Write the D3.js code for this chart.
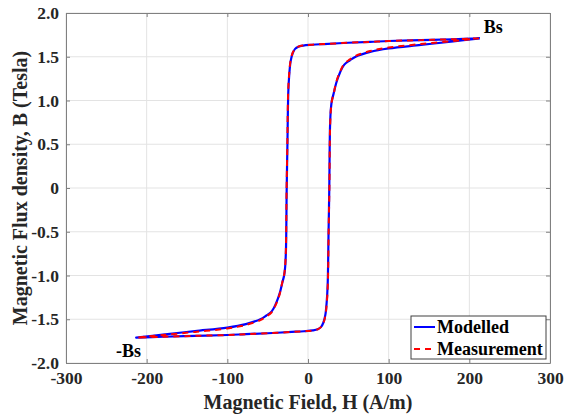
<!DOCTYPE html>
<html>
<head>
<meta charset="utf-8">
<script src="https://cdn.jsdelivr.net/npm/d3@7"></script>
<style>
  body { margin: 0; background: white; }
  svg text { font-family: "Liberation Serif", "DejaVu Serif", serif !important; font-weight: bold; }
</style>
</head>
<body>
<div id="chart"></div>
<script>
// tick values
const xTicks = [-300, -200, -100, 0, 100, 200, 300];
const yTicks = [-2, -1.5, -1, -0.5, 0, 0.5, 1, 1.5, 2];

// modelled loop: descending branch (H, B) then ascending branch
const modelH = [213, 180, 140, 100, 77, 50, 20, 5, -6, -12, -16, -19, -21.5, -23.2, -24.4, -25.5, -26.4, -27.3, -28.3, -29.6, -31.8, -35, -39.7, -45, -52, -59, -77, -100, -140, -180, -213,
                -213, -180, -140, -100, -77, -50, -20, -5, 6, 12, 16, 19, 21.5, 23.2, 24.4, 25.5, 26.4, 27.3, 28.3, 29.6, 31.8, 35, 39.7, 45, 52, 59, 77, 100, 140, 180, 213];
const modelB = [1.71, 1.70, 1.69, 1.68, 1.67, 1.66, 1.645, 1.637, 1.628, 1.615, 1.59, 1.54, 1.45, 1.30, 1.10, 0.5, 0.0, -0.70, -0.90, -1.00, -1.08, -1.20, -1.32, -1.41, -1.46, -1.50, -1.555, -1.595, -1.635, -1.675, -1.71,
                -1.71, -1.70, -1.69, -1.68, -1.67, -1.66, -1.645, -1.637, -1.628, -1.615, -1.59, -1.54, -1.45, -1.30, -1.10, -0.5, 0.0, 0.70, 0.90, 1.00, 1.08, 1.20, 1.32, 1.41, 1.46, 1.50, 1.555, 1.595, 1.635, 1.675, 1.71];

// measured loop
const measH = [212, 180, 140, 100, 77, 50, 20, 5, -6, -12, -16, -19.2, -21.7, -23.4, -24.6, -25.6, -26.5, -27.4, -28.4, -29.7, -31.9, -35, -39.7, -45, -52, -59, -77, -100, -140, -180, -212,
               -212, -180, -140, -100, -77, -50, -20, -5, 6, 12, 16, 19.2, 21.7, 23.4, 24.6, 25.6, 26.5, 27.4, 28.4, 29.7, 31.9, 35, 39.7, 45, 52, 59, 77, 100, 140, 180, 212];
const measB = [1.71, 1.70, 1.69, 1.68, 1.67, 1.66, 1.645, 1.637, 1.628, 1.615, 1.59, 1.54, 1.45, 1.30, 1.10, 0.5, 0.0, -0.70, -0.90, -1.00, -1.08, -1.21, -1.33, -1.42, -1.47, -1.51, -1.565, -1.605, -1.645, -1.68, -1.71,
               -1.71, -1.70, -1.69, -1.68, -1.67, -1.66, -1.645, -1.637, -1.628, -1.615, -1.59, -1.54, -1.45, -1.30, -1.10, -0.5, 0.0, 0.70, 0.90, 1.00, 1.08, 1.21, 1.33, 1.42, 1.47, 1.51, 1.565, 1.605, 1.645, 1.68, 1.71];

const legendNames = ["Modelled", "Measurement"];

const svgWidth = 566;
const svgHeight = 415;
const margin = {top: 13, right: 16, bottom: 52, left: 66};
const width = svgWidth - margin.left - margin.right;
const height = svgHeight - margin.top - margin.bottom;

let svg = d3.select("#chart")
  .append("svg")
  .attr("width", svgWidth)
  .attr("height", svgHeight)
  .append("g")
  .attr("transform", "translate(" + margin.left + "," + margin.top + ")");

var xScale = d3.scaleLinear().domain([-300, 300]).range([0, width]);
var yScale = d3.scaleLinear().domain([-2, 2]).range([height, 0]);

// grid
svg.append("g").selectAll("line").data(xTicks).join("line")
  .attr("x1", d => xScale(d)).attr("x2", d => xScale(d))
  .attr("y1", 0).attr("y2", height)
  .attr("stroke", "#e3e3e3").attr("stroke-width", 1);
svg.append("g").selectAll("line").data(yTicks).join("line")
  .attr("x1", 0).attr("x2", width)
  .attr("y1", d => yScale(d)).attr("y2", d => yScale(d))
  .attr("stroke", "#e3e3e3").attr("stroke-width", 1);

// axes, ticks pointing inward
function styleAxis(g) {
  g.attr("font-family", "Liberation Serif").attr("font-weight", "bold");
  g.select(".domain").attr("stroke", "#808080");
  g.selectAll(".tick line").attr("stroke", "#808080");
  g.selectAll("text").attr("fill", "#262626").style("font-size", "17.5px");
}
const fmtX = d => String(d);
const fmtY = d => d === 0 ? "0" : d.toFixed(1);

svg.append("g").attr("transform", "translate(0," + height + ")")
  .call(d3.axisBottom(xScale).tickValues(xTicks).tickSizeInner(-4).tickSizeOuter(0).tickPadding(9).tickFormat(fmtX))
  .call(styleAxis);
svg.append("g")
  .call(d3.axisTop(xScale).tickValues(xTicks).tickSizeInner(-4).tickSizeOuter(0).tickFormat(""))
  .call(styleAxis);
svg.append("g")
  .call(d3.axisLeft(yScale).tickValues(yTicks).tickSizeInner(-4).tickSizeOuter(0).tickPadding(7).tickFormat(fmtY))
  .call(styleAxis);
svg.append("g").attr("transform", "translate(" + width + ",0)")
  .call(d3.axisRight(yScale).tickValues(yTicks).tickSizeInner(-4).tickSizeOuter(0).tickFormat(""))
  .call(styleAxis);

// curves
var line = d3.line().x(d => xScale(d[0])).y(d => yScale(d[1])).curve(d3.curveCatmullRom.alpha(0.5));
svg.append("path")
  .datum(d3.zip(modelH, modelB))
  .attr("fill", "none").attr("stroke", "#0000ff").attr("stroke-width", 2.2)
  .attr("stroke-linejoin", "round")
  .attr("d", line);
svg.append("path")
  .datum(d3.zip(measH, measB))
  .attr("fill", "none").attr("stroke", "#ff0000").attr("stroke-width", 2)
  .attr("stroke-dasharray", "6,5")
  .attr("d", line);

// annotations
svg.append("text").attr("x", xScale(218)).attr("y", yScale(1.77))
  .style("font-size", "18px").attr("fill", "black").text("Bs");
svg.append("text").attr("x", xScale(-238)).attr("y", yScale(-1.93))
  .style("font-size", "18px").attr("fill", "black").text("-Bs");

// axis titles
svg.append("text")
  .attr("text-anchor", "middle")
  .attr("x", width / 2).attr("y", height + 46)
  .style("font-size", "20px").attr("fill", "#262626")
  .text("Magnetic Field, H (A/m)");
svg.append("text")
  .attr("text-anchor", "middle")
  .attr("transform", "translate(-39," + (height / 2) + ") rotate(-90)")
  .style("font-size", "20px").attr("fill", "#262626")
  .text("Magnetic Flux density, B (Tesla)");

// legend
var legend = svg.append("g").attr("transform", "translate(" + (width - 139) + "," + (height - 47) + ")");
legend.append("rect").attr("width", 135).attr("height", 43)
  .attr("fill", "white").attr("stroke", "#404040").attr("stroke-width", 1);
legend.selectAll("line").data(legendNames).join("line")
  .attr("x1", 3).attr("x2", 24)
  .attr("y1", (d, i) => 11 + i * 22).attr("y2", (d, i) => 11 + i * 22)
  .attr("stroke", (d, i) => i === 0 ? "#0000ff" : "#ff0000")
  .attr("stroke-width", 2)
  .attr("stroke-dasharray", (d, i) => i === 0 ? null : "6,5");
legend.selectAll("text").data(legendNames).join("text")
  .attr("x", 26).attr("y", (d, i) => 17 + i * 22)
  .style("font-size", "18px").attr("fill", "black")
  .text(d => d);
</script>
</body>
</html>
